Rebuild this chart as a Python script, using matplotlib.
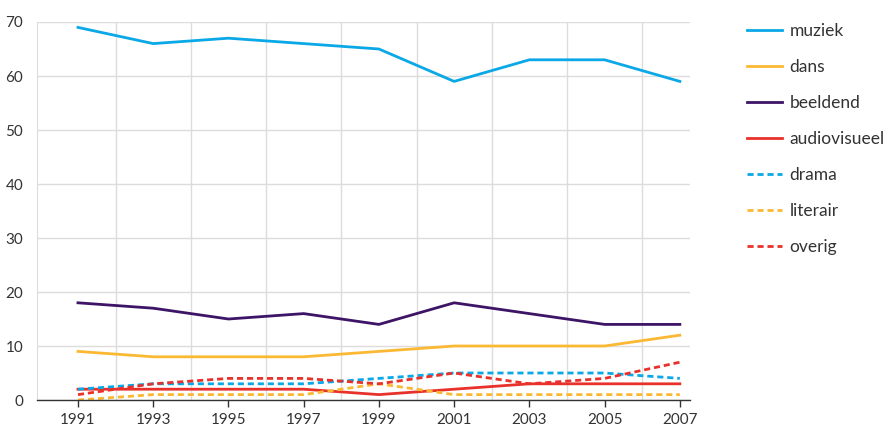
import numpy as np
import matplotlib.pyplot as plt

plt.rcParams['font.family'] = ['Lato', 'DejaVu Sans']

jaren = [1991, 1993, 1995, 1997, 1999, 2001, 2003, 2005, 2007]

muziek = [69, 66, 67, 66, 65, 59, 63, 63, 59]
dans = [9, 8, 8, 8, 9, 10, 10, 10, 12]
beeldend = [18, 17, 15, 16, 14, 18, 16, 14, 14]
audiovisueel = [2, 2, 2, 2, 1, 2, 3, 3, 3]
drama = [2, 3, 3, 3, 4, 5, 5, 5, 4]
literair = [0, 1, 1, 1, 3, 1, 1, 1, 1]
overig = [1, 3, 4, 4, 3, 5, 3, 4, 7]

blauw = '#0aa8e6'
geel = '#fbb933'
paars = '#3d1466'
rood = '#e8312a'

fig = plt.figure(figsize=(8.91, 4.28), dpi=100)
ax = fig.add_axes([0.0415, 0.0654, 0.7325, 0.8832])

series = [
    ('muziek', muziek, blauw, '-'),
    ('dans', dans, geel, '-'),
    ('beeldend', beeldend, paars, '-'),
    ('audiovisueel', audiovisueel, rood, '-'),
    ('drama', drama, blauw, '--'),
    ('literair', literair, geel, '--'),
    ('overig', overig, rood, '--'),
]

for naam, waarden, kleur, stijl in series:
    lijn, = ax.plot(jaren, waarden, color=kleur, lw=2, ls=stijl, label=naam)
    if stijl == '--':
        lijn.set_dashes((2.2, 1.4))

ax.set_xlim(1989.91, 2007.26)
ax.set_ylim(0, 70)
ax.set_xticks(jaren)
ax.set_xticks(np.arange(1992, 2007, 2), minor=True)
ax.set_yticks(np.arange(0, 71, 10))
ax.grid(True, which='minor', axis='x', color='#dcdcdc', lw=1)
ax.grid(True, which='major', axis='y', color='#dcdcdc', lw=1)
ax.tick_params(axis='x', which='major', length=5, width=1, color='#333333',
               labelsize=11, labelcolor='#333333', pad=4)
ax.tick_params(axis='x', which='minor', length=0)
ax.tick_params(axis='y', length=0, labelsize=11, labelcolor='#333333', pad=10)
for s in ['top', 'right']:
    ax.spines[s].set_visible(False)
ax.spines['left'].set_color('#dcdcdc')
ax.spines['bottom'].set_color('#333333')
ax.spines['bottom'].set_linewidth(1)
ax.set_axisbelow(True)

ax.legend(loc='upper left', bbox_to_anchor=(1.078, 1.016), frameon=False,
          fontsize=12.5, labelcolor='#333333', handlelength=1.96,
          handletextpad=0.46, labelspacing=1.15, borderaxespad=0)

fig.savefig('out.png', dpi=100)
